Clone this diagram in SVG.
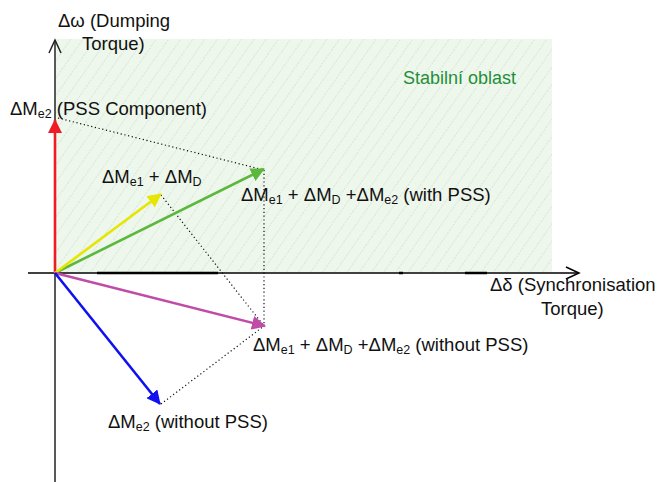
<svg xmlns="http://www.w3.org/2000/svg" width="658" height="482" viewBox="0 0 658 482">
  <style>
    text { font-family: "Liberation Sans", Arial, sans-serif; font-size: 18.5px; fill: #111; }
    .sub { font-size: 12.5px; }
    .axis { stroke: #222; stroke-width: 1.5; fill: none; }
    .guide { stroke: #111; stroke-width: 1.2; stroke-dasharray: 1.2 2.6; fill: none; }
    .vec { stroke-width: 2.6; fill: none; }
  </style>
  <defs>
    <pattern id="hatch" width="10" height="10" patternUnits="userSpaceOnUse" patternTransform="rotate(35)">
      <rect width="10" height="10" fill="#eef7ec"/>
      <line x1="0" y1="0" x2="0" y2="10" stroke="#cdd6cb" stroke-width="1" stroke-dasharray="2 1"/>
    </pattern>
    <marker id="hRed" markerUnits="userSpaceOnUse" markerWidth="16" markerHeight="14" refX="13" refY="7" orient="auto">
      <path d="M0,0 L14,7 L0,14 z" fill="#ee1c24"/>
    </marker>
    <marker id="hGreen" markerUnits="userSpaceOnUse" markerWidth="16" markerHeight="14" refX="13" refY="7" orient="auto">
      <path d="M0,0 L14,7 L0,14 z" fill="#5cb83c"/>
    </marker>
    <marker id="hYellow" markerUnits="userSpaceOnUse" markerWidth="16" markerHeight="14" refX="13" refY="7" orient="auto">
      <path d="M0,0 L14,7 L0,14 z" fill="#e6e600"/>
    </marker>
    <marker id="hMagenta" markerUnits="userSpaceOnUse" markerWidth="16" markerHeight="14" refX="13" refY="7" orient="auto">
      <path d="M0,0 L14,7 L0,14 z" fill="#c04ca8"/>
    </marker>
    <marker id="hBlue" markerUnits="userSpaceOnUse" markerWidth="16" markerHeight="14" refX="13" refY="7" orient="auto">
      <path d="M0,0 L14,7 L0,14 z" fill="#1010f0"/>
    </marker>
  </defs>

  <rect width="658" height="482" fill="#ffffff"/>

  <!-- stable region (first quadrant) -->
  <g id="stable-region">
    <rect x="56" y="39" width="496" height="233" fill="url(#hatch)"/>
    <text x="403" y="84" style="fill:#1f8f3a; font-size:18px">Stabilní oblast</text>
  </g>

  <!-- axes -->
  <g id="axes">
    <line class="axis" x1="55" y1="482" x2="55" y2="40"/>
    <polyline class="axis" points="49,53 55,40 61,53"/>
    <line x1="28" y1="273" x2="578" y2="273" stroke="#000" stroke-width="1.5"/>
    <polyline points="566,267 579,273 566,279" stroke="#000" stroke-width="1.5" fill="none"/>
    <line x1="97" y1="273" x2="218" y2="273" stroke="#000" stroke-width="2.5"/>
    <line x1="399" y1="273" x2="403" y2="273" stroke="#000" stroke-width="2.5"/>
    <line x1="465" y1="273" x2="487" y2="273" stroke="#000" stroke-width="2.5"/>
    <text x="58" y="27">Δω (Dumping</text>
    <text x="82" y="50">Torque)</text>
    <text x="490" y="291">Δδ (Synchronisation</text>
    <text x="541" y="315">Torque)</text>
  </g>

  <!-- connectors: vectors and parallelogram guides -->
  <g id="connectors">
    <line class="guide" x1="58" y1="118" x2="264" y2="170"/>
    <line class="guide" x1="161" y1="195" x2="264" y2="326"/>
    <line class="guide" x1="264" y1="170" x2="264" y2="326"/>
    <line class="guide" x1="161" y1="404" x2="264" y2="326"/>

    <line class="vec" x1="55" y1="273" x2="55" y2="120" stroke="#ee1c24" stroke-width="3" marker-end="url(#hRed)"/>
    <line class="vec" x1="55" y1="273" x2="264" y2="169" stroke="#5cb83c" marker-end="url(#hGreen)"/>
    <line class="vec" x1="55" y1="273" x2="161" y2="194" stroke="#e6e600" marker-end="url(#hYellow)"/>
    <line class="vec" x1="55" y1="273" x2="265" y2="326" stroke="#c04ca8" marker-end="url(#hMagenta)"/>
    <line class="vec" x1="55" y1="273" x2="160" y2="404" stroke="#1010f0" marker-end="url(#hBlue)"/>
  </g>

  <!-- vector labels -->
  <g id="label-pss">
    <text x="10" y="115">ΔM<tspan class="sub" dy="3">e2</tspan><tspan dy="-3"> (PSS Component)</tspan></text>
  </g>
  <g id="label-e1-d">
    <text x="102" y="183">ΔM<tspan class="sub" dy="3">e1</tspan><tspan dy="-3"> + ΔM</tspan><tspan class="sub" dy="3">D</tspan></text>
  </g>
  <g id="label-with-pss">
    <text x="241" y="201">ΔM<tspan class="sub" dy="3">e1</tspan><tspan dy="-3"> + ΔM</tspan><tspan class="sub" dy="3">D</tspan><tspan dy="-3"> +ΔM</tspan><tspan class="sub" dy="3">e2</tspan><tspan dy="-3"> (with PSS)</tspan></text>
  </g>
  <g id="label-without-pss">
    <text x="253" y="351">ΔM<tspan class="sub" dy="3">e1</tspan><tspan dy="-3"> + ΔM</tspan><tspan class="sub" dy="3">D</tspan><tspan dy="-3"> +ΔM</tspan><tspan class="sub" dy="3">e2</tspan><tspan dy="-3"> (without PSS)</tspan></text>
  </g>
  <g id="label-e2">
    <text x="108" y="428">ΔM<tspan class="sub" dy="3">e2</tspan><tspan dy="-3"> (without PSS)</tspan></text>
  </g>
</svg>
